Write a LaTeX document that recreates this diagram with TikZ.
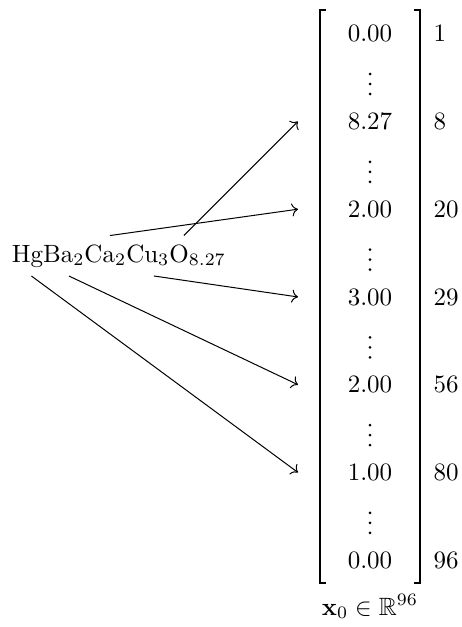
\documentclass[tikz,border=0pt]{standalone}
\usepackage{amsmath, amssymb}
\usepackage{tikz}
\usetikzlibrary{arrows.meta, calc, positioning}

\begin{document}
\begin{tikzpicture}[
        x=0.4pt, y=-0.4pt,
        val/.style={anchor=base},
        idx/.style={anchor=base west, inner sep=0pt},
        brk/.style={line width=0.8pt},
      ]
      \useasboundingbox (0,0) rectangle (461,627);

      % Summenformel
      \node[anchor=base west] (formula) at (3,262) {HgBa$_2$Ca$_2$Cu$_3$O$_{8.27}$};

      % Vektor: Werte und Indizes
      \foreach \i/\v/\n in {0/0.00/1, 1/8.27/8, 2/2.00/20, 3/3.00/29,
                            4/2.00/56, 5/1.00/80, 6/0.00/96} {
        \node[val] (v\n) at (370, 41.7+87.77*\i) {$\v$};
        \node[idx] (i\n) at (433, 41.7+87.77*\i) {$\n$};
      }
      % vertikale Punkte zwischen den Zeilen
      \foreach \i in {0,...,5} {
        \foreach \k in {0,1,2} {
          \fill (370, 94+87.77*\i-10*\k) circle (0.6pt);
        }
      }

      % Klammern
      \draw[brk] (325.5,10) -- (320,10) -- (320,583) -- (325.5,583);
      \draw[brk] (413.5,10) -- (420,10) -- (420,583) -- (413.5,583);

      \node[val] (label) at (370,615) {$\mathbf{x}_0 \in \mathbb{R}^{96}$};

      % Pfeile vom Rand der Formel
      \coordinate (tipx) at (298,0);
      \coordinate (s8)  at ([xshift=26pt]formula.north);
      \coordinate (s20) at ([xshift=-3.6pt]formula.north);
      \coordinate (s29) at ([xshift=14pt]formula.south);
      \coordinate (s56) at ([xshift=-20pt]formula.south);
      \coordinate (s80) at ([xshift=-35pt]formula.south);
      \foreach \n in {8,20,29,56,80} {
        \draw[->] (s\n) -- (tipx |- v\n);
      }
    \end{tikzpicture}
\end{document}
